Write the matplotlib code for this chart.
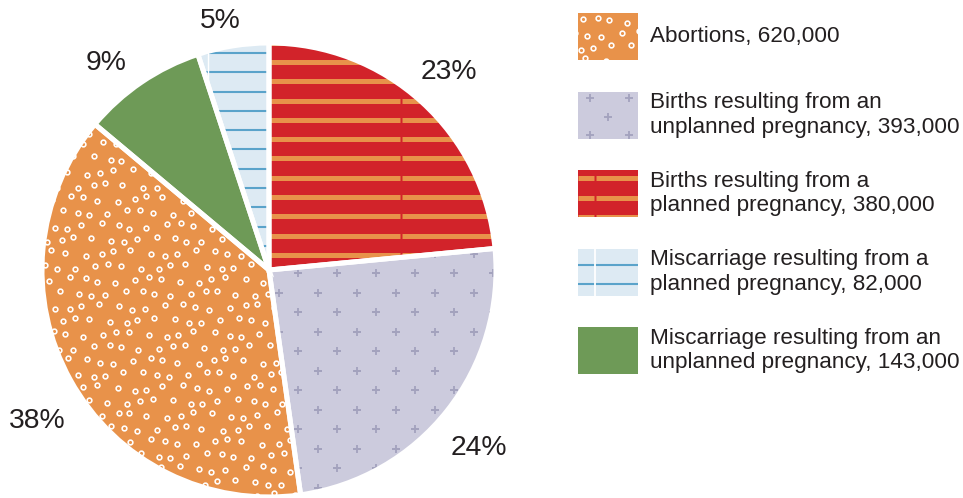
import numpy as np
import matplotlib.pyplot as plt
from matplotlib.patches import Rectangle, Wedge

plt.rcParams['font.family'] = ['Liberation Sans', 'DejaVu Sans']

# slices in drawing order, clockwise from 12 o'clock
names = ['Births resulting from a\nplanned pregnancy',
         'Births resulting from an\nunplanned pregnancy',
         'Abortions',
         'Miscarriage resulting from an\nunplanned pregnancy',
         'Miscarriage resulting from a\nplanned pregnancy']
values = [380000, 393000, 620000, 143000, 82000]
legend_order = [2, 1, 0, 4, 3]

fills = ['#D2232A', '#CCCBDD', '#E8924A', '#6E9A57', '#DDEAF3']
patterns = ['stripes', 'plus', 'rings', 'solid', 'lines']
# label placement tweaks (distance in radii, angle nudge in degrees)
lab_dist = [1.18, 1.21, 1.22, 1.16, 1.12]
lab_nudge = [0, -2, 4, 4, 2]

TXT = '#231F20'
W, H = 963, 498


def py(y):
    # pixel row (from top) -> data y (from bottom)
    return H - y


def stripes(ax, ys, x0, x1, vx, color, lw):
    # horizontal stripes, with a thin seam at vx (tile join)
    if vx is None:
        return [ax.hlines(py(ys), x0, x1, color=color, lw=lw)]
    return [ax.hlines(py(ys), x0, vx - 0.8, color=color, lw=lw),
            ax.hlines(py(ys), vx + 0.8, x1, color=color, lw=lw)]


def add_pattern(ax, patch, kind, x0, x1, y0, y1, vx=None):
    # y0/y1 are pixel rows (top, bottom)
    arts = []
    if kind == 'stripes':
        ys = np.arange(62 - 19.3 * 10, 600, 19.3)
        ys = ys[(ys > y0 - 5) & (ys < y1 + 5)]
        arts += stripes(ax, ys, x0, x1, vx, '#E8924A', 3.6)
    elif kind == 'lines':
        ys = np.arange(53 - 19.3 * 10, 600, 19.3)
        ys = ys[(ys > y0 - 3) & (ys < y1 + 3)]
        arts.append(ax.hlines(py(ys), x0, x1, color='#5AA3CA', lw=1.5))
        if vx is not None:
            arts.append(ax.vlines(vx, py(y1), py(y0), color='white', lw=1.0))
    elif kind == 'plus':
        pts = []
        for j, y in enumerate(np.arange(273 - 19.5 * 20, 600, 19.5)):
            if y < y0 - 10 or y > y1 + 10:
                continue
            off = 19.5 * (j % 2)
            for x in np.arange(298 - 39 * 10 + off, 1000, 39):
                if x0 - 10 < x < x1 + 10:
                    pts.append((x, y))
        pts = np.array(pts)
        l, = ax.plot(pts[:, 0], py(pts[:, 1]), ls='none', marker='+',
                     ms=6, mew=1.3, color='#A3A2BD')
        arts.append(l)
    elif kind == 'rings':
        pts = []
        for j, y in enumerate(np.arange(y0 - 6, y1 + 14, 13.5)):
            xs = np.arange(x0 - 6 + 8 * (j % 2), x1 + 16, 16.0)
            k = np.arange(len(xs))
            xs = xs + 3.5 * np.sin(1.7 * k + 0.9 * j)
            ys = y + 3.0 * np.cos(1.3 * k + 2.1 * j)
            pts += list(zip(xs, ys))
        pts = np.array(pts)
        l, = ax.plot(pts[:, 0], py(pts[:, 1]), ls='none', marker='o',
                     ms=3.4, mfc='none', mec='white', mew=1.15)
        arts.append(l)
    for a in arts:
        a.set_clip_path(patch)
        a.set_zorder(2)


fig = plt.figure(figsize=(W / 100, H / 100), dpi=100)
ax = fig.add_axes([0, 0, 1, 1])

cx, cy, R = 269, 270, 227
wedges, _, pcts = ax.pie(values, colors=fills, startangle=90, counterclock=False,
                         center=(cx, py(cy)), radius=R, autopct='%.0f%%',
                         wedgeprops=dict(lw=0, zorder=1),
                         textprops=dict(fontsize=20.3, color=TXT))

vlines = [401, None, None, None, 208]
for i, w in enumerate(wedges):
    add_pattern(ax, w, patterns[i], cx - R, cx + R, cy - R, cy + R, vlines[i])
    ax.add_patch(Wedge(w.center, w.r, w.theta1, w.theta2, fc='none',
                       ec='white', lw=3.6, zorder=3))
    mid = np.deg2rad((w.theta1 + w.theta2) / 2 + lab_nudge[i])
    pcts[i].set_position((cx + lab_dist[i] * R * np.cos(mid),
                          py(cy) + lab_dist[i] * R * np.sin(mid)))
    pcts[i].set_ha('center')
    pcts[i].set_va('center')

# legend
sx, sw, sh = 578, 60, 47
for n, i in enumerate(legend_order):
    top = 13 + 78.5 * n
    rect = Rectangle((sx, py(top + sh)), sw, sh, fc=fills[i], lw=0, zorder=1)
    ax.add_patch(rect)
    arts = []
    if patterns[i] == 'plus':
        pts = []
        for j, y in enumerate([top + 6, top + 25, top + 43]):
            xs = [sx + 30] if j == 1 else [sx + 12, sx + 51]
            pts += [(x, y) for x in xs]
        pts = np.array(pts)
        l, = ax.plot(pts[:, 0], py(pts[:, 1]), ls='none', marker='+',
                     ms=6, mew=1.3, color='#A3A2BD')
        arts.append(l)
    elif patterns[i] == 'stripes':
        ys = np.array([top + 7.5, top + 27.5, top + 47])
        arts += stripes(ax, ys, sx, sx + sw, 595, '#E8924A', 3.6)
    elif patterns[i] == 'lines':
        ys = np.array([top + 16, top + 35])
        arts.append(ax.hlines(py(ys), sx, sx + sw, color='#5AA3CA', lw=1.5))
        arts.append(ax.vlines(595, py(top + sh), py(top), color='white', lw=1.3))
    else:
        add_pattern(ax, rect, patterns[i], sx, sx + sw, top, top + sh)
    for a in arts:
        a.set_clip_path(rect)
        a.set_zorder(2)
    label = names[i] + f', {values[i]:,}'
    ax.text(650, py(top + sh / 2), label, fontsize=16.2, color=TXT,
            va='center', ha='left', linespacing=1.2)

ax.set_xlim(0, W)
ax.set_ylim(0, H)
ax.set_aspect('equal')
ax.axis('off')

fig.savefig('out.png', dpi=100)
